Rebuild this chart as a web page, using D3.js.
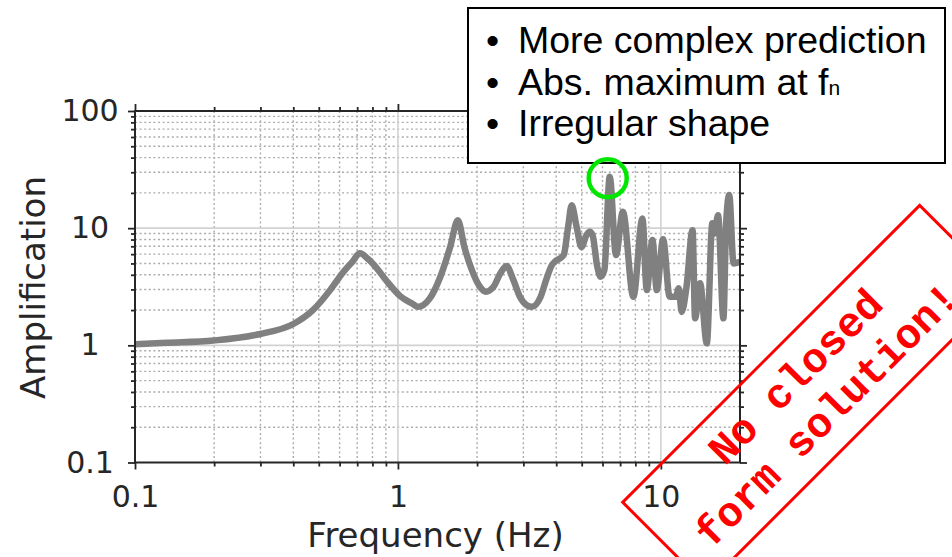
<!DOCTYPE html>
<html><head><meta charset="utf-8">
<script src="https://cdn.jsdelivr.net/npm/d3@7"></script>
<style>body{margin:0;background:#fff} svg{display:block}</style>
</head><body>
<svg id="c" width="952" height="557"></svg>
<script>
// ---- data ----
const freq = [0.1, 0.132, 0.199, 0.299, 0.4, 0.477, 0.552, 0.585, 0.62, 0.67, 0.717, 0.77, 0.83, 0.906,
  1.02, 1.14, 1.19, 1.32, 1.45, 1.58, 1.69, 1.79, 1.91, 2.05, 2.16, 2.31, 2.45, 2.59, 2.75, 2.91, 3.09, 3.23,
  3.49, 3.66, 3.85, 3.95, 4.27, 4.44, 4.58, 4.78, 4.99, 5.21, 5.36, 5.5, 5.73, 5.9, 6.1, 6.39, 6.75, 7.17,
  7.86, 8.51, 8.84, 9.29, 9.65, 10.2, 10.8, 11.4, 11.7, 12.0, 12.5, 13.2, 13.5, 14.1, 14.95, 15.7, 16.0,
  16.5, 17.3, 17.7, 18.2, 18.9, 20];
const amp = [1.02, 1.05, 1.1, 1.25, 1.52, 2.02, 2.96, 3.54, 4.22, 5.14, 6.1, 5.45, 4.57, 3.54,
  2.63, 2.25, 2.13, 2.5, 3.85, 6.9, 11.7, 6.9, 4.4, 3.16, 2.87, 3.16, 4.1, 4.75, 3.6, 2.6, 2.2, 2.13,
  2.6, 3.6, 4.84, 5.17, 5.9, 10.3, 15.7, 10.3, 6.9, 8.7, 9.3, 8.7, 4.7, 3.85, 4.4, 27.5, 5.9, 13.8,
  2.6, 12.1, 2.96, 7.93, 2.96, 8.03, 2.6, 2.6, 3.07, 1.93, 3.07, 9.6, 1.7, 3.38, 1.04, 11.0, 9.0,
  12.9, 1.7, 10.6, 19.2, 5.0, 5.17];
const xTickValues = [0.1, 1, 10];
const xTickLabels = ["0.1", "1", "10"];
const yTickValues = [0.1, 1, 10, 100];
const yTickLabels = ["0.1", "1", "10", "100"];
const xTitle = "Frequency (Hz)";
const yTitle = "Amplification";
const notes = ["More complex prediction", "Abs. maximum at f", "Irregular shape"];
const noteSub = "n";
const stampLines = ["No closed", "form solution!"];
const highlightF = 6.39, highlightA = 27.5;

// ---- layout ----
const L = 135, R = 740, T = 111, B = 462.5;
const x = d3.scaleLog().domain([0.1, 20]).range([L, R]);
const y = d3.scaleLog().domain([0.1, 100]).range([B, T]);
const svg = d3.select("#c");
const axisFont = "'DejaVu Sans', sans-serif";
const txt = "#262626";

const isMajor = (arr, v) => arr.some(m => Math.abs(m - v) / m < 1e-6);
const minorX = x.ticks().filter(v => !isMajor(xTickValues, v) && v < 20 - 1e-9);
const minorY = y.ticks().filter(v => !isMajor(yTickValues, v));

// grid
const grid = svg.append("g");
grid.selectAll(".mx").data(minorX).join("line")
  .attr("x1", d => x(d)).attr("x2", d => x(d)).attr("y1", T).attr("y2", B)
  .attr("stroke", "#ababab").attr("stroke-width", 1.4).attr("stroke-dasharray", "2,2.6");
grid.selectAll(".my").data(minorY).join("line")
  .attr("x1", L).attr("x2", R).attr("y1", d => y(d)).attr("y2", d => y(d))
  .attr("stroke", "#ababab").attr("stroke-width", 1.4).attr("stroke-dasharray", "2,2.6");
grid.selectAll(".Mx").data(xTickValues.filter(v => v > 0.1)).join("line")
  .attr("x1", d => x(d)).attr("x2", d => x(d)).attr("y1", T).attr("y2", B)
  .attr("stroke", "#d2d2d2").attr("stroke-width", 1.6);
grid.selectAll(".My").data(yTickValues.filter(v => v > 0.1 && v < 100)).join("line")
  .attr("x1", L).attr("x2", R).attr("y1", d => y(d)).attr("y2", d => y(d))
  .attr("stroke", "#d2d2d2").attr("stroke-width", 1.6);

// data line
const pts = freq.map((f, i) => ({f, a: amp[i]}));
svg.append("path").datum(pts)
  .attr("d", d3.line().x(d => x(d.f)).y(d => y(d.a)).curve(d3.curveMonotoneX))
  .attr("fill", "none").attr("stroke", "#808080").attr("stroke-width", 6.5)
  .attr("stroke-linejoin", "round");

// frame + ticks
function styleAxis(g) {
  g.select(".domain").remove();
  g.selectAll(".tick line").attr("stroke", "#262626").attr("stroke-width", 1.8);
  g.selectAll("text").attr("font-family", axisFont).attr("font-size", 30).attr("fill", txt);
}
svg.append("g").attr("transform", `translate(0,${B})`)
  .call(d3.axisBottom(x).tickValues(xTickValues).tickFormat((d, i) => xTickLabels[i]).tickSize(7))
  .call(styleAxis).call(g => g.selectAll("text").attr("y", 23.5).attr("dy", "0.71em"));
svg.append("g").attr("transform", `translate(0,${B})`)
  .call(d3.axisBottom(x).tickValues(minorX).tickFormat("").tickSize(4)).call(styleAxis);
svg.append("g").attr("transform", `translate(0,${T})`)
  .call(d3.axisTop(x).tickValues(xTickValues).tickFormat("").tickSize(7)).call(styleAxis);
svg.append("g").attr("transform", `translate(0,${T})`)
  .call(d3.axisTop(x).tickValues(minorX).tickFormat("").tickSize(4)).call(styleAxis);
svg.append("g").attr("transform", `translate(${L},0)`)
  .call(d3.axisLeft(y).tickValues(yTickValues).tickFormat((d, i) => yTickLabels[i]).tickSize(7))
  .call(styleAxis).call(g => g.selectAll("text").attr("text-anchor", "middle").attr("x", 90 - L));
svg.append("g").attr("transform", `translate(${L},0)`)
  .call(d3.axisLeft(y).tickValues(minorY).tickFormat("").tickSize(4)).call(styleAxis);
svg.append("g").attr("transform", `translate(${R},0)`)
  .call(d3.axisRight(y).tickValues(yTickValues).tickFormat("").tickSize(7)).call(styleAxis);
svg.append("g").attr("transform", `translate(${R},0)`)
  .call(d3.axisRight(y).tickValues(minorY).tickFormat("").tickSize(4)).call(styleAxis);
svg.append("rect").attr("x", L).attr("y", T).attr("width", R - L).attr("height", B - T)
  .attr("fill", "none").attr("stroke", "#262626").attr("stroke-width", 2);

// titles
svg.append("text").attr("x", 435.5).attr("y", 547).attr("text-anchor", "middle")
  .attr("font-family", axisFont).attr("font-size", 34).attr("fill", txt).text(xTitle);
svg.append("text").attr("transform", "translate(45,287.5) rotate(-90)").attr("text-anchor", "middle")
  .attr("font-family", axisFont).attr("font-size", 34).attr("fill", txt).text(yTitle);

// note box
svg.append("rect").attr("x", 468).attr("y", 8).attr("width", 477).attr("height", 155)
  .attr("fill", "#fff").attr("stroke", "#000").attr("stroke-width", 2);
const noteFont = "'Liberation Sans', Arial, sans-serif";
notes.forEach((s, i) => {
  const by = 53 + i * 41.5;
  svg.append("text").attr("x", 486).attr("y", by).attr("font-family", noteFont)
    .attr("font-size", 37.5).attr("fill", "#000").text("\u2022");
  const t = svg.append("text").attr("x", 518).attr("y", by).attr("font-family", noteFont)
    .attr("font-size", 37.5).attr("fill", "#000").text(s);
  if (i === 1) t.append("tspan").attr("font-size", 21).text(noteSub);
});

// highlight circle
svg.append("circle").attr("cx", x(highlightF) - 2).attr("cy", y(highlightA) + 1.5).attr("r", 19)
  .attr("fill", "none").attr("stroke", "#00e600").attr("stroke-width", 4.5);

// stamp
const st = svg.append("g").attr("transform", "translate(622.7,502.3) rotate(-45)");
st.append("rect").attr("x", 0).attr("y", 0).attr("width", 420).attr("height", 118)
  .attr("fill", "none").attr("stroke", "#ff0000").attr("stroke-width", 3);
const stampCx = [211, 206];
stampLines.forEach((s, i) => {
  st.append("text").attr("x", stampCx[i]).attr("y", 47 + i * 49).attr("text-anchor", "middle")
    .attr("font-family", "'Liberation Mono', 'Courier New', monospace").attr("font-weight", "bold")
    .attr("font-size", 42).attr("fill", "#ff0000").text(s);
});
</script>
</body></html>
